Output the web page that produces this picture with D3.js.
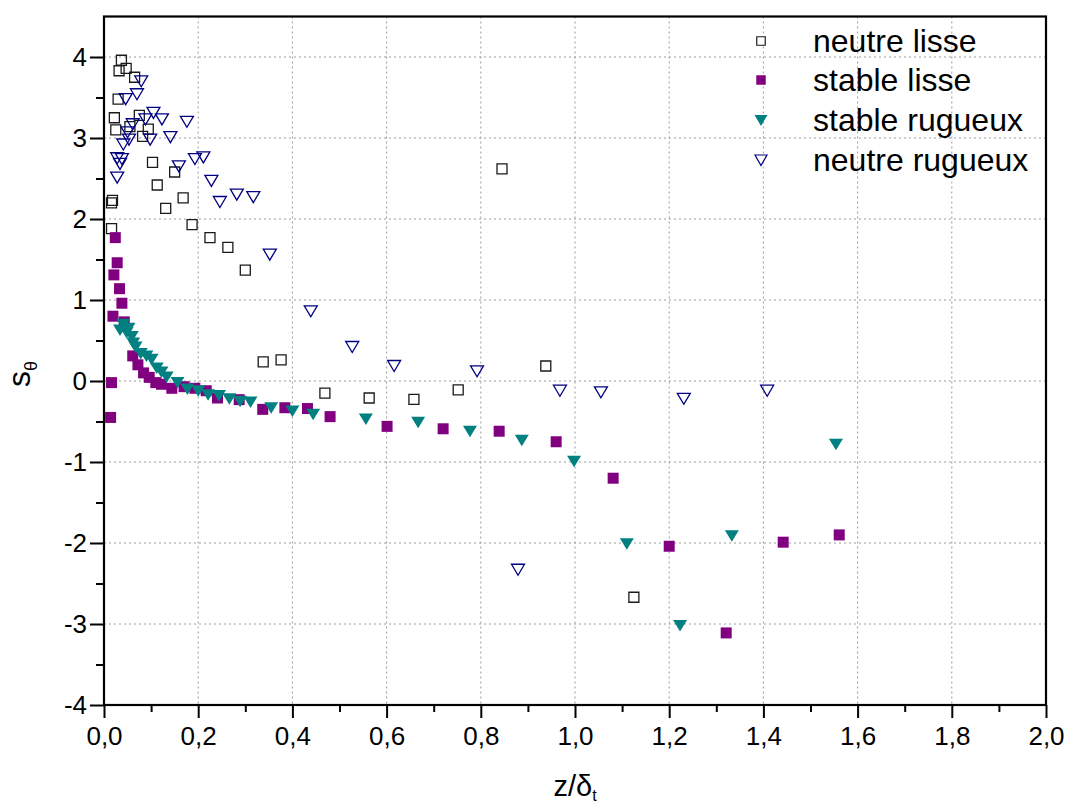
<!DOCTYPE html>
<html><head><meta charset="utf-8">
<script src="https://cdn.jsdelivr.net/npm/d3@7"></script>
<style>
body{margin:0;background:#fff;}
svg{display:block;font-family:"Liberation Sans",Arial,sans-serif;}
</style></head>
<body><svg id="c" width="1067" height="808"></svg>
<script>
const xTicks = [0,0.2,0.4,0.6,0.8,1.0,1.2,1.4,1.6,1.8,2.0];
const yTicks = [-4,-3,-2,-1,0,1,2,3,4];
const seriesNames = ["neutre lisse","stable lisse","stable rugueux","neutre rugueux"];

const neutreLisseX = [0.037,0.032,0.047,0.065,0.030,0.075,0.022,0.025,0.094,0.082,0.055,0.103,0.150,0.113,0.168,0.131,0.018,0.016,0.016,0.187,0.225,0.263,0.300,0.338,0.376,0.469,0.563,0.658,0.752,0.845,0.938,1.125];
const neutreLisseY = [3.96,3.83,3.86,3.75,3.48,3.28,3.25,3.10,3.11,3.02,3.14,2.70,2.58,2.42,2.26,2.13,2.23,2.20,1.88,1.93,1.77,1.65,1.37,0.235,0.26,-0.15,-0.21,-0.226,-0.11,2.62,0.185,-2.67];

const stableLisseX = [0.024,0.028,0.021,0.033,0.038,0.019,0.043,0.061,0.072,0.084,0.096,0.110,0.122,0.144,0.016,0.014,0.170,0.193,0.217,0.241,0.287,0.337,0.384,0.432,0.480,0.601,0.720,0.839,0.960,1.081,1.200,1.321,1.442,1.561];
const stableLisseY = [1.77,1.46,1.31,1.14,0.96,0.80,0.73,0.31,0.20,0.10,0.045,-0.02,-0.04,-0.09,-0.02,-0.45,-0.07,-0.09,-0.12,-0.21,-0.23,-0.35,-0.33,-0.34,-0.44,-0.56,-0.59,-0.62,-0.75,-1.20,-2.04,-3.11,-1.99,-1.90];

const stableRugueuxX = [0.034,0.041,0.048,0.052,0.059,0.062,0.067,0.078,0.090,0.101,0.112,0.122,0.133,0.156,0.177,0.200,0.221,0.244,0.266,0.289,0.311,0.355,0.400,0.444,0.556,0.667,0.777,0.887,0.998,1.110,1.223,1.333,1.554];
const stableRugueuxY = [0.63,0.70,0.60,0.65,0.55,0.47,0.42,0.34,0.31,0.27,0.16,0.11,0.05,-0.02,-0.10,-0.12,-0.17,-0.18,-0.22,-0.25,-0.26,-0.33,-0.37,-0.41,-0.47,-0.51,-0.62,-0.73,-0.99,-2.01,-3.02,-1.91,-0.78];

const neutreRugueuxX = [0.079,0.070,0.046,0.105,0.088,0.123,0.176,0.061,0.050,0.098,0.141,0.053,0.041,0.028,0.038,0.034,0.028,0.159,0.193,0.211,0.228,0.246,0.282,0.317,0.352,0.439,0.527,0.616,0.792,0.879,0.968,1.055,1.231,1.408];
const neutreRugueuxY = [3.70,3.54,3.48,3.31,3.23,3.23,3.20,3.17,3.07,2.98,3.01,2.98,2.92,2.75,2.74,2.68,2.51,2.65,2.74,2.76,2.47,2.21,2.30,2.27,1.56,0.86,0.42,0.185,0.12,-2.33,-0.12,-0.14,-0.22,-0.12];

const svg = d3.select("#c");
const L = 104, R = 1046, T = 16.5, B = 705;
const x = d3.scaleLinear().domain([0,2]).range([L,R]);
const y = d3.scaleLinear().domain([-4,4.5]).range([B,T]);
const fmt = d => d3.format(".1f")(d).replace(".",",");

// grid
const g = svg.append("g");
g.selectAll(".gx").data(xTicks.filter(v=>v>0&&v<2)).enter().append("line")
  .attr("x1",d=>x(d)).attr("x2",d=>x(d)).attr("y1",T).attr("y2",B)
  .attr("stroke","#9a9a9a").attr("stroke-width",1).attr("stroke-dasharray","2,3");
g.selectAll(".gy").data(yTicks.filter(v=>v>-4)).enter().append("line")
  .attr("x1",L).attr("x2",R).attr("y1",d=>y(d)).attr("y2",d=>y(d))
  .attr("stroke","#9a9a9a").attr("stroke-width",1).attr("stroke-dasharray","2,3");

// axes
const xAxis = d3.axisBottom(x).tickValues(xTicks).tickFormat(fmt).tickSize(13).tickPadding(9);
const xMinor = d3.axisBottom(x).tickValues(d3.range(0.1,2,0.2)).tickFormat("").tickSize(7);
const yAxis = d3.axisLeft(y).tickValues(yTicks).tickFormat(d=>d).tickSize(14).tickPadding(3);
const yMinor = d3.axisLeft(y).tickValues(d3.range(-3.5,4.5,1)).tickFormat("").tickSize(8);

function styleAxis(sel){
  sel.select(".domain").remove();
  sel.selectAll("line").attr("stroke","#000").attr("stroke-width",2);
  sel.selectAll("text").attr("font-size",26).attr("fill","#000").attr("font-family",'"Liberation Sans",Arial,sans-serif');
}
svg.append("g").attr("transform",`translate(0,${B})`).call(xAxis).call(styleAxis);
svg.append("g").attr("transform",`translate(0,${B})`).call(xMinor).call(styleAxis);
svg.append("g").attr("transform",`translate(${L},0)`).call(yAxis).call(styleAxis);
svg.append("g").attr("transform",`translate(${L},0)`).call(yMinor).call(styleAxis);

// frame
svg.append("rect").attr("x",L).attr("y",T).attr("width",R-L).attr("height",B-T)
  .attr("fill","none").attr("stroke","#000").attr("stroke-width",2.2);

// symbols
const sqOpen = d3.symbol().type(d3.symbolSquare).size(100)();
const sqFill = d3.symbol().type(d3.symbolSquare).size(121)();
const triDown = "M-6.5,-5.5L6.5,-5.5L0,5.5Z";
const triDownF = "M-7,-5.5L7,-5.5L0,6Z";

function plot(xs, ys, path, fill, stroke, sw){
  svg.append("g").selectAll("path").data(xs.map((v,i)=>[v,ys[i]])).enter().append("path")
    .attr("d",path).attr("transform",d=>`translate(${x(d[0])},${y(d[1])})`)
    .attr("fill",fill).attr("stroke",stroke).attr("stroke-width",sw);
}
plot(neutreLisseX, neutreLisseY, sqOpen, "none", "#1a1a1a", 1.3);
plot(stableLisseX, stableLisseY, sqFill, "#800080", "none", 0);
plot(stableRugueuxX, stableRugueuxY, triDownF, "#008080", "none", 0);
plot(neutreRugueuxX, neutreRugueuxY, triDown, "none", "#000080", 1.3);

// legend
const legY = [41, 80, 120, 160];
const legSyms = [
  {d:d3.symbol().type(d3.symbolSquare).size(72)(), fill:"#fff", stroke:"#1a1a1a", sw:1.2},
  {d:d3.symbol().type(d3.symbolSquare).size(90)(), fill:"#800080", stroke:"none", sw:0},
  {d:"M-6.5,-5L6.5,-5L0,6Z", fill:"#008080", stroke:"none", sw:0},
  {d:"M-6,-5L6,-5L0,5.5Z", fill:"#fff", stroke:"#000080", sw:1.2}
];
const leg = svg.append("g");
seriesNames.forEach((n,i)=>{
  leg.append("path").attr("d",legSyms[i].d).attr("transform",`translate(761,${legY[i]})`)
    .attr("fill",legSyms[i].fill).attr("stroke",legSyms[i].stroke).attr("stroke-width",legSyms[i].sw);
  leg.append("text").attr("x",813).attr("y",legY[i]).attr("dy","0.35em")
    .attr("font-size",32).attr("fill","#000").text(n);
});

// axis titles
const xt = svg.append("text").attr("x",(L+R)/2).attr("y",796).attr("text-anchor","middle")
  .attr("font-size",29).attr("fill","#000");
xt.append("tspan").text("z/δ");
xt.append("tspan").attr("font-size",16).attr("dy",5).text("t");

const yt = svg.append("text").attr("transform","translate(30,374) rotate(-90)")
  .attr("text-anchor","middle").attr("font-size",32).attr("fill","#000");
yt.append("tspan").text("s");
yt.append("tspan").attr("font-size",18).attr("dy",7).text("θ");
</script></body></html>
